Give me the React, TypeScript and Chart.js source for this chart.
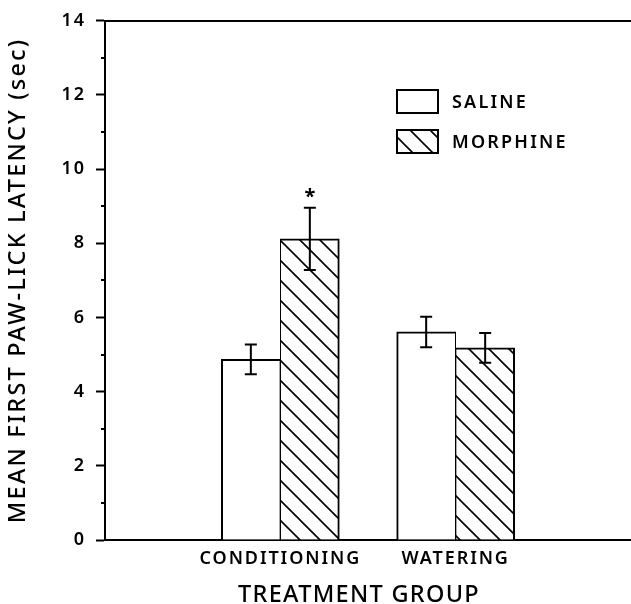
import React, { useEffect, useRef } from 'react';
import { Chart, registerables, LinearScale, CategoryScale } from 'chart.js';

// ---- data ----
const categories = ['', 'CONDITIONING', 'WATERING', ''];
const seriesLabels = ['SALINE', 'MORPHINE'];
const salineMeans = [null, 4.87, 5.61, null];
const salineErrors = [null, 0.4, 0.41, null];
const morphineMeans = [null, 8.12, 5.18, null];
const morphineErrors = [null, 0.84, 0.4, null];
const morphineMarks = ['', '*', '', ''];
const yMin = 0;
const yMax = 14;
const yMajorStep = 2;
const yMinorStep = 1;
const yTitle = 'MEAN FIRST PAW-LICK LATENCY (sec)';
const xTitle = 'TREATMENT GROUP';

// ---- style ----
const FONT = '"Noto Sans", "DejaVu Sans", Arial, sans-serif';
const WEIGHT = 600;
const TITLE_WEIGHT = 500;
const INK = '#000';
const TICK_SPACING = '1.9px';
const LEGEND_SPACING = '2.2px';
const Y_TITLE_SPACING = '2.2px';
const X_TITLE_SPACING = '1.3px';
const X_TITLE_SHIFT = -9;

class SpacedLinearScale extends LinearScale {
  static id = 'spacedLinear';
  drawLabels(area: any) {
    const c = (this as any).ctx;
    c.save();
    c.letterSpacing = TICK_SPACING;
    super.drawLabels(area);
    c.restore();
  }
  drawTitle() {
    const c = (this as any).ctx;
    c.save();
    c.letterSpacing = Y_TITLE_SPACING;
    super.drawTitle();
    c.restore();
  }
}

class SpacedCategoryScale extends CategoryScale {
  static id = 'spacedCategory';
  drawLabels(area: any) {
    const c = (this as any).ctx;
    c.save();
    c.letterSpacing = TICK_SPACING;
    super.drawLabels(area);
    c.restore();
  }
  drawTitle() {
    const c = (this as any).ctx;
    c.save();
    c.letterSpacing = X_TITLE_SPACING;
    c.translate(X_TITLE_SHIFT, 0);
    super.drawTitle();
    c.restore();
  }
}

Chart.register(...registerables, SpacedLinearScale, SpacedCategoryScale);

function makeHatch(ctx: CanvasRenderingContext2D) {
  const s = 20;
  const tile = document.createElement('canvas');
  tile.width = s;
  tile.height = s;
  const g = tile.getContext('2d') as CanvasRenderingContext2D;
  g.fillStyle = '#fff';
  g.fillRect(0, 0, s, s);
  g.strokeStyle = INK;
  g.lineWidth = 1.6;
  g.beginPath();
  g.moveTo(-5, -5);
  g.lineTo(s + 5, s + 5);
  g.moveTo(-5, s - 5);
  g.lineTo(5, s + 5);
  g.moveTo(s - 5, -5);
  g.lineTo(s + 5, 5);
  g.stroke();
  return ctx.createPattern(tile, 'repeat');
}

const errorBarPlugin = {
  id: 'errorBars',
  afterDatasetsDraw(chart: any) {
    const { ctx } = chart;
    const y = chart.scales.y;
    chart.data.datasets.forEach((ds: any, di: number) => {
      const meta = chart.getDatasetMeta(di);
      meta.data.forEach((bar: any, i: number) => {
        const v = ds.data[i];
        const e = ds.errors ? ds.errors[i] : null;
        if (v == null || e == null) return;
        const yt = y.getPixelForValue(v + e);
        const yb = y.getPixelForValue(v - e);
        ctx.save();
        ctx.strokeStyle = INK;
        ctx.lineWidth = 2;
        ctx.beginPath();
        ctx.moveTo(bar.x, yt);
        ctx.lineTo(bar.x, yb);
        ctx.moveTo(bar.x - 6, yt);
        ctx.lineTo(bar.x + 6, yt);
        ctx.moveTo(bar.x - 6, yb);
        ctx.lineTo(bar.x + 6, yb);
        ctx.stroke();
        if (ds.marks && ds.marks[i]) {
          ctx.fillStyle = INK;
          ctx.font = `bold 20px ${FONT}`;
          ctx.textAlign = 'center';
          ctx.textBaseline = 'alphabetic';
          ctx.fillText(ds.marks[i], bar.x, yt - 5);
        }
        ctx.restore();
      });
    });
  },
};

const minorTickPlugin = {
  id: 'minorTicks',
  afterDraw(chart: any) {
    const { ctx, chartArea } = chart;
    const y = chart.scales.y;
    ctx.save();
    ctx.strokeStyle = INK;
    ctx.lineWidth = 2;
    ctx.beginPath();
    for (let v = yMin + yMinorStep; v < yMax; v += yMajorStep) {
      const py = Math.round(y.getPixelForValue(v));
      ctx.moveTo(chartArea.left - 4, py);
      ctx.lineTo(chartArea.left, py);
    }
    ctx.stroke();
    ctx.restore();
  },
};

const legendPlugin = {
  id: 'boxLegend',
  afterDraw(chart: any) {
    const { ctx } = chart;
    const x0 = 397;
    const y0 = 90;
    const bw = 41;
    const bh = 23;
    const gap = 40;
    chart.data.datasets.forEach((ds: any, i: number) => {
      const by = y0 + i * gap;
      ctx.save();
      ctx.fillStyle = ds.backgroundColor;
      ctx.fillRect(x0, by, bw, bh);
      ctx.strokeStyle = INK;
      ctx.lineWidth = 2;
      ctx.strokeRect(x0, by, bw, bh);
      ctx.fillStyle = INK;
      ctx.font = `${WEIGHT} 18px ${FONT}`;
      (ctx as any).letterSpacing = LEGEND_SPACING;
      ctx.textAlign = 'left';
      ctx.textBaseline = 'middle';
      ctx.fillText(ds.label, x0 + bw + 14, by + bh / 2 + 1);
      ctx.restore();
    });
  },
};

const zeroSidePadding = (s: any) => {
  s.paddingLeft = 0;
  s.paddingRight = 0;
};

export default function App() {
  const canvasRef = useRef<HTMLCanvasElement | null>(null);

  useEffect(() => {
    const canvas = canvasRef.current as HTMLCanvasElement;
    const ctx = canvas.getContext('2d') as CanvasRenderingContext2D;
    const hatch = makeHatch(ctx);

    const chart = new Chart(canvas, {
      type: 'bar',
      data: {
        labels: categories,
        datasets: [
          {
            label: seriesLabels[0],
            data: salineMeans,
            errors: salineErrors,
            backgroundColor: '#ffffff',
            borderColor: INK,
            borderWidth: { top: 2, left: 2, right: 1, bottom: 0 },
            borderSkipped: 'start',
            barThickness: 59,
          } as any,
          {
            label: seriesLabels[1],
            data: morphineMeans,
            errors: morphineErrors,
            marks: morphineMarks,
            backgroundColor: hatch,
            borderColor: INK,
            borderWidth: { top: 2, left: 1, right: 2, bottom: 0 },
            borderSkipped: 'start',
            barThickness: 59,
          } as any,
        ],
      },
      options: {
        animation: false,
        responsive: false,
        maintainAspectRatio: false,
        layout: { padding: { top: 20, left: 0, right: 0, bottom: 0 } },
        plugins: {
          legend: { display: false },
          tooltip: { enabled: false },
        },
        scales: {
          x: {
            type: 'spacedCategory' as any,
            offset: false,
            grid: { display: false, drawTicks: false, offset: false },
            border: { display: true, color: INK, width: 2 },
            ticks: {
              color: INK,
              font: { family: FONT, size: 18, weight: WEIGHT },
              padding: 8,
              autoSkip: false,
              maxRotation: 0,
            },
            title: {
              display: true,
              text: xTitle,
              color: INK,
              font: { family: FONT, size: 23.5, weight: TITLE_WEIGHT, lineHeight: 0.75 },
              padding: { top: 0, bottom: 0 },
            },
            afterFit: (s: any) => {
              s.height = 64;
              zeroSidePadding(s);
            },
          },
          x2: {
            type: 'linear',
            position: 'top',
            display: true,
            min: 0,
            max: 1,
            grid: { display: false, drawTicks: false },
            ticks: { display: false },
            border: { display: true, color: INK, width: 2 },
            afterFit: (s: any) => {
              s.height = 0;
              zeroSidePadding(s);
            },
          },
          y: {
            type: 'spacedLinear' as any,
            min: yMin,
            max: yMax,
            ticks: {
              stepSize: yMajorStep,
              color: INK,
              font: { family: FONT, size: 18, weight: WEIGHT },
              padding: 10,
            },
            grid: {
              drawOnChartArea: false,
              drawTicks: true,
              tickLength: 9,
              tickColor: INK,
              tickWidth: 2,
            },
            border: { display: true, color: INK, width: 2 },
            title: {
              display: true,
              text: yTitle,
              color: INK,
              font: { family: FONT, size: 23.5, weight: TITLE_WEIGHT, lineHeight: 1 },
              padding: { top: 7, bottom: 0 },
            },
            afterFit: (s: any) => {
              s.width = 105;
            },
          },
        },
      } as any,
      plugins: [errorBarPlugin, minorTickPlugin, legendPlugin],
    });

    return () => chart.destroy();
  }, []);

  return (
    <div style={{ position: 'fixed', left: 0, top: 0, width: 631, height: 604, background: '#fff' }}>
      <canvas ref={canvasRef} width={631} height={604} style={{ display: 'block' }} />
    </div>
  );
}
